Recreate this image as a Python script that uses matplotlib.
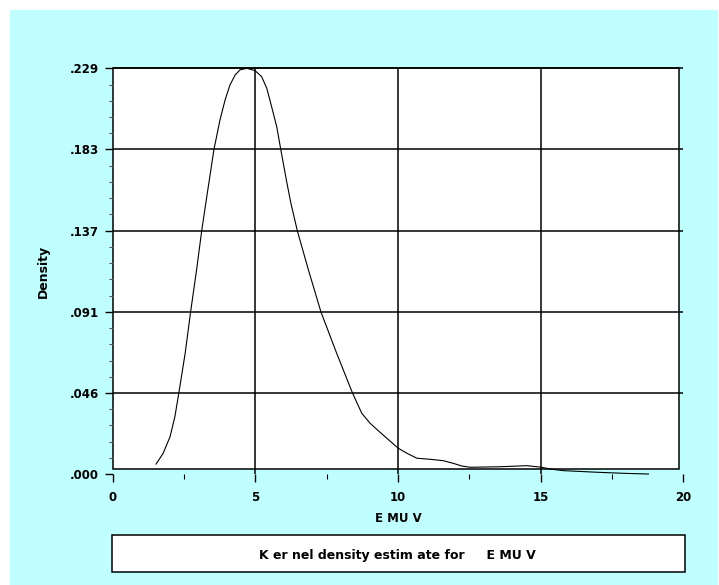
import numpy as np
import matplotlib
matplotlib.use("Agg")
from matplotlib import pyplot as plt
from matplotlib.patches import Rectangle

# valori (stima kernel di EMUV)
emuv_x = [1.52, 1.77, 2.01, 2.18, 2.32, 2.54, 2.73, 2.94, 3.12, 3.30, 3.55,
          3.76, 3.94, 4.11, 4.29, 4.46, 4.70, 4.99, 5.22, 5.40, 5.57, 5.75,
          5.89, 6.10, 6.24, 6.47, 6.86, 7.30, 7.85, 8.40, 8.73, 9.02, 9.35,
          9.61, 10.01, 10.31, 10.66, 11.13, 11.59, 11.94, 12.24, 12.53,
          13.58, 14.52, 14.87, 15.02, 15.39, 15.80, 16.97, 17.90, 18.78]
density = [0.0057, 0.0118, 0.0211, 0.0324, 0.0459, 0.0681, 0.0913, 0.1150,
           0.1371, 0.1565, 0.1829, 0.1994, 0.2107, 0.2191, 0.2247, 0.2276,
           0.2285, 0.2272, 0.2238, 0.2173, 0.2069, 0.1956, 0.1829, 0.1645,
           0.1530, 0.1371, 0.1150, 0.0913, 0.0681, 0.0459, 0.0343, 0.0287,
           0.0239, 0.0202, 0.0146, 0.0118, 0.0090, 0.0084, 0.0076, 0.0061,
           0.0046, 0.0039, 0.0042, 0.0048, 0.0042, 0.0039, 0.0028, 0.0020,
           0.0011, 0.0005, 0.0001]

y_ticks = [0.0, 0.0457, 0.0914, 0.1371, 0.1828, 0.2285]
y_labels = ['.000', '.046', '.091', '.137', '.183', '.229']
x_ticks = [0, 5, 10, 15, 20]
x_minor = [2.5, 7.5, 12.5, 17.5]

legend_text = 'K er nel density estim ate for     E MU V'

cyan = '#c0ffff'
plt.rcParams['font.family'] = ['DejaVu Sans']
plt.rcParams['font.weight'] = 'bold'

fig = plt.figure(figsize=(7.19, 5.85), dpi=100, facecolor='white')
fig.patches.append(Rectangle((10 / 719, 0), 708 / 719, 575 / 585,
                             transform=fig.transFigure, facecolor=cyan,
                             edgecolor='none', zorder=-10))

ax = fig.add_axes([112.7 / 719, 110.8 / 585, 570.6 / 719, 405.9 / 585])
ax.patch.set_visible(False)
for s in ax.spines.values():
    s.set_visible(False)
ax.set_xlim(0, 20)
ax.set_ylim(0, y_ticks[-1])

# riquadro bianco del grafico (il bordo inferiore sta un po' sopra lo zero)
ybot = 0.0029
xright = 19.86
ax.add_patch(Rectangle((0, ybot), xright, y_ticks[-1] - ybot, facecolor='white',
                       edgecolor='black', lw=1.1, zorder=0, clip_on=False))

# griglia
ax.hlines(y_ticks[1:], 0, 20, color='black', lw=1.1, zorder=1, clip_on=False)
ax.vlines(x_ticks[1:-1], 0, y_ticks[-1], color='black', lw=1.1, zorder=1)

ax.plot(emuv_x, density, color='black', lw=0.8, zorder=2, clip_on=False,
        solid_joinstyle='round')

ax.set_yticks(y_ticks)
ax.set_yticklabels(y_labels)
ax.set_yticks(np.linspace(0, y_ticks[-1], 26), minor=True)
ax.set_xticks(x_ticks)
ax.set_xticks(x_minor, minor=True)
ax.tick_params(axis='y', which='major', direction='out', length=6, width=1,
               pad=4, labelsize=8.5)
ax.tick_params(axis='y', which='minor', direction='out', length=3, width=0.8,
               color='#555555')
ax.tick_params(axis='x', which='major', direction='out', length=6, width=1,
               pad=6, labelsize=8.5)
ax.tick_params(axis='x', which='minor', direction='out', length=3.5, width=0.8)

ax.set_xlabel('E MU V', fontsize=8.5, fontweight='bold', labelpad=6)
ax.set_ylabel('Density', fontsize=9, fontweight='bold', labelpad=14)

# box della legenda in basso
fig.patches.append(Rectangle((112 / 719, 13 / 585), 573 / 719, 37 / 585,
                             transform=fig.transFigure, facecolor='white',
                             edgecolor='black', lw=1.1))
fig.text(397 / 719, 30 / 585, legend_text, ha='center', va='center',
         fontsize=9, fontweight='bold')

fig.savefig('out.png', dpi=100, facecolor=fig.get_facecolor())
